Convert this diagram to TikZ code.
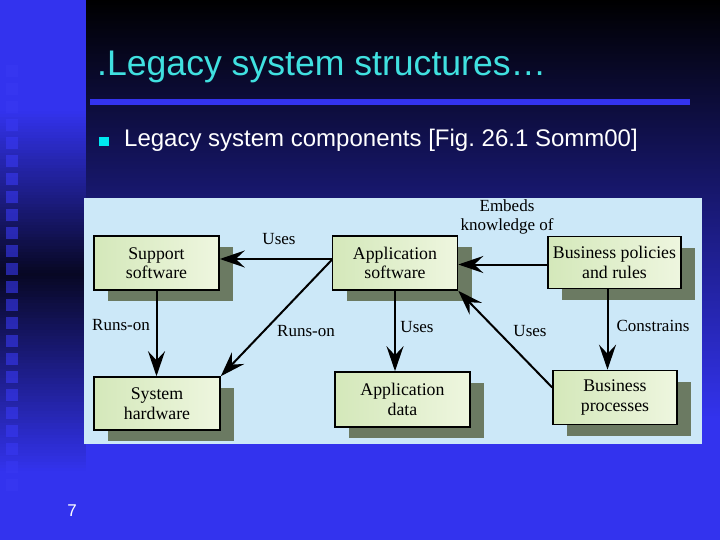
\documentclass[tikz,border=0pt]{standalone}
\usepackage{fontspec}
\setmainfont{Liberation Sans}
\newfontfamily\figfont{Liberation Serif}
\usetikzlibrary{arrows.meta,shadows}
\definecolor{slideblue}{HTML}{3333EE}
\definecolor{stripdark}{HTML}{06061C}
\definecolor{sqblue}{HTML}{3838F2}
\definecolor{titlecyan}{HTML}{40E0E0}
\definecolor{bulletcyan}{HTML}{00E8F0}
\definecolor{figbg}{HTML}{CCE8F8}
\definecolor{boxleft}{HTML}{D4E8BA}
\definecolor{boxright}{HTML}{EEF6DF}
\definecolor{shadowgreen}{HTML}{6B7A62}

\begin{document}
\begin{tikzpicture}[x=1pt,y=-1pt,
    comp/.style={draw,line width=1.6pt,left color=boxleft,right color=boxright,align=center,inner sep=0pt,
      font=\figfont\fontsize{17.8}{19.5}\selectfont,
      drop shadow={shadow xshift=14pt,shadow yshift=-11pt,fill=shadowgreen,opacity=1}},
    rel/.style={line width=2pt,-{Stealth[length=25pt,width=17pt,inset=9pt]}},
    lbl/.style={font=\figfont\fontsize{17}{19}\selectfont,align=center,inner sep=0pt}]
            \useasboundingbox (0,0) rectangle (720,540);
            % slide background
            \shade[top color=black,bottom color=slideblue] (85,0) rectangle (720,420);
            \fill[slideblue] (85,420) rectangle (720,540);
            \foreach \y in {0,3,...,537} {
              \pgfmathtruncatemacro\b{\y<110 ? 100 : (\y<272 ? 100-(\y-110)*0.5926 : (\y<470 ? 4+(\y-272)*0.4848 : 100))}
              \fill[slideblue!\b!stripdark] (0,\y) rectangle (85.5,\y+3.2);
            }
            \foreach \i in {0,...,23}
              \fill[sqblue,fill opacity=.6] (6,65+18*\i) rectangle +(12,12);
            % title and bullet
            \node[anchor=base west,inner sep=0pt,text=titlecyan,font=\fontsize{35.6}{38}\selectfont] (title) at (97,76) {.Legacy system structures…};
            \fill[slideblue] (90,99) rectangle (690,105);
            \fill[bulletcyan] (99,137) rectangle (109,146);
            \node[anchor=base west,inner sep=0pt,text=white,font=\fontsize{24}{27}\selectfont] (sub) at (124,147) {Legacy system components [Fig.~26.1 Somm00]};
            \node[text=white,font=\fontsize{17}{19}\selectfont] (pg) at (72,511) {7};
            % figure
            \fill[figbg] (84,198) rectangle (702,444);
            \node[comp,minimum width=125pt,minimum height=54pt] (sup) at (156.5,263) {Support\\software};
            \node[comp,minimum width=125pt,minimum height=54pt] (app) at (395,263) {Application\\software};
            \node[comp,minimum width=133pt,minimum height=52pt] (pol) at (614.5,262.5) {Business policies\\and rules};
            \node[comp,minimum width=126pt,minimum height=53pt] (hw) at (157,403.5) {System\\hardware};
            \node[comp,minimum width=135pt,minimum height=55pt] (dat) at (402.5,399.5) {Application\\data};
            \node[comp,minimum width=124pt,minimum height=54pt] (proc) at (615,397.5) {Business\\processes};
            \draw[rel] ([yshift=4pt]app.west) -- ([yshift=4pt]sup.east);
            \draw[rel] ([yshift=3pt]app.west) -- (hw.north east);
            \draw[rel] (sup.south) -- (sup.south |- hw.north);
            \draw[rel] (app.south) -- (app.south |- dat.north);
            \draw[rel] ([yshift=-2pt]pol.west) -- ([yshift=-2pt]pol.west -| app.east);
            \draw[rel] ([yshift=10pt]proc.west) -- (app.south east);
            \draw[rel] ([xshift=-7pt]pol.south) -- ([xshift=-7pt]pol.south |- proc.north);
            \node[lbl] (usesup) at (279,239) {Uses};
            \node[lbl] (runsup) at (121,325) {Runs-on};
            \node[lbl] (runapp) at (306,331) {Runs-on};
            \node[lbl] (usesdat) at (417,327) {Uses};
            \node[lbl] (usesproc) at (530,331) {Uses};
            \node[lbl] (constr) at (653,326) {Constrains};
            \node[lbl] (embeds) at (507,217) {Embeds\\knowledge of};
          \end{tikzpicture}
\end{document}
